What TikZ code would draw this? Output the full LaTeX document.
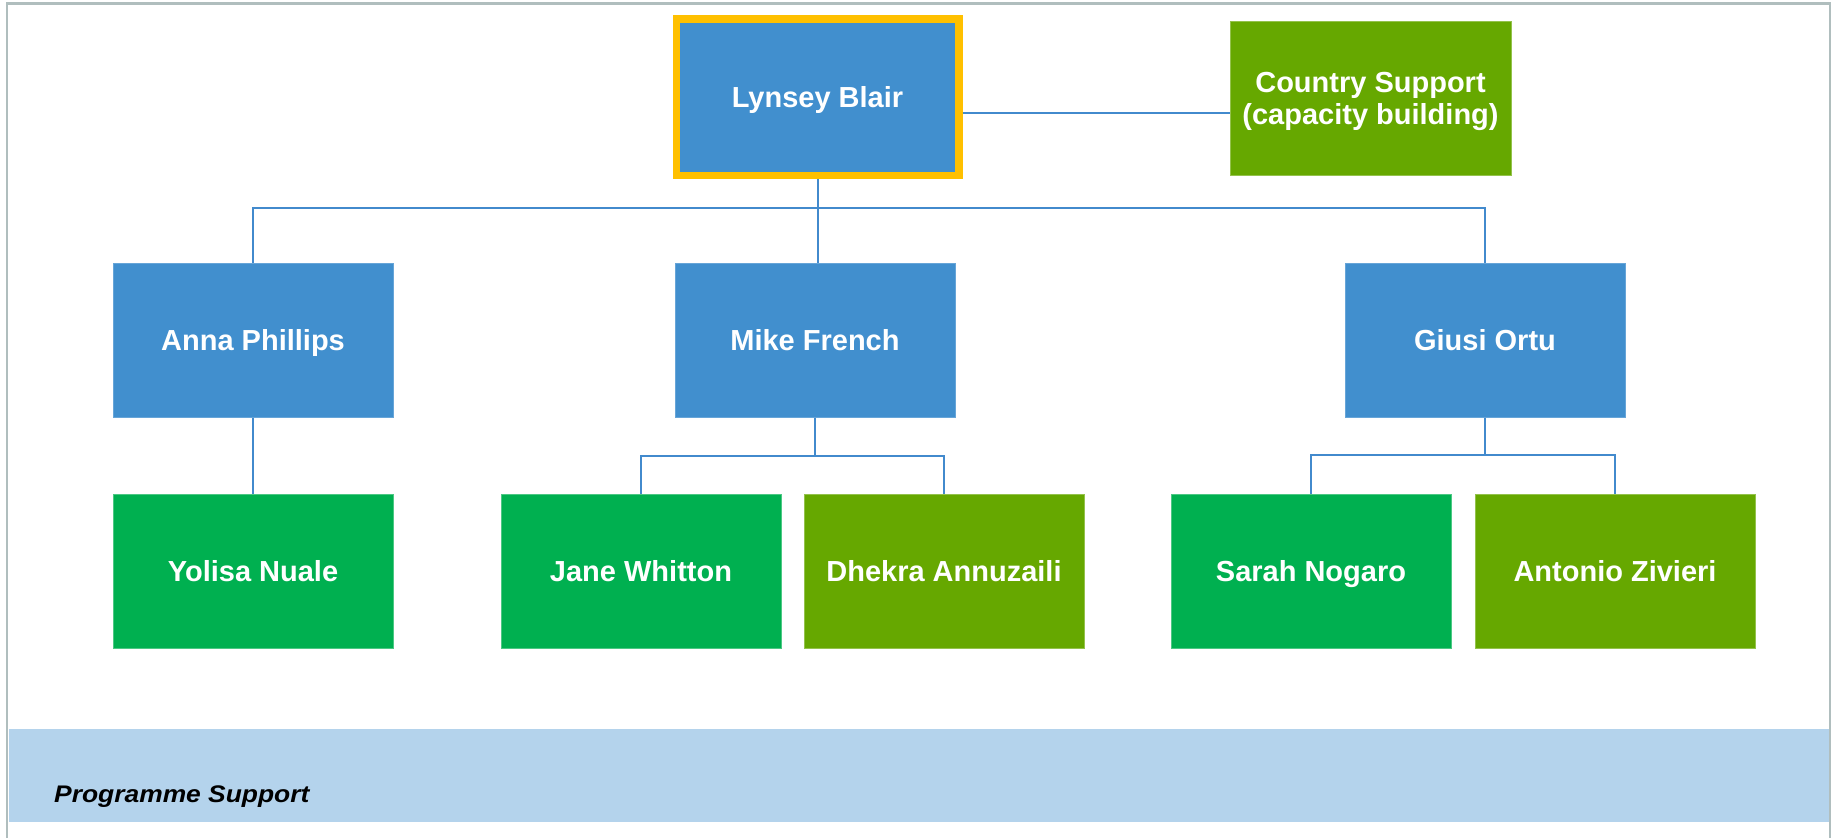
\documentclass[tikz,border=0pt]{standalone}
\usepackage{fontspec}
\setmainfont{Liberation Sans}
\definecolor{boxblue}{RGB}{65,143,206}
\definecolor{boxgreen}{RGB}{0,176,80}
\definecolor{boxolive}{RGB}{102,168,0}
\definecolor{hiyellow}{RGB}{255,192,0}
\definecolor{bandblue}{RGB}{180,211,236}
\definecolor{linkblue}{RGB}{66,138,205}
\definecolor{framegrey}{RGB}{176,190,190}
\tikzset{
  orgbox/.style={minimum width=280pt, minimum height=154pt, inner sep=0pt,
    text=white, align=center, font=\fontsize{29}{31}\selectfont\bfseries,
    text height=20.8pt, text depth=0pt},
  bluebox/.style={orgbox, fill=boxblue, draw=boxblue!80!white, line width=1pt},
  greenbox/.style={orgbox, fill=boxgreen, draw=boxgreen!70!white, line width=1pt},
  olivebox/.style={orgbox, fill=boxolive, draw=boxolive!70!white, line width=1pt},
  link/.style={draw=linkblue, line width=2pt},
}
\begin{document}
\begin{tikzpicture}[x=1pt,y=-1pt]
\useasboundingbox (0,0) rectangle (1831,838);
% frame
\draw[framegrey, line width=2.5pt] (7,838) -- (7,3.5) -- (1830,3.5) -- (1830,838);
% band
\fill[bandblue] (8.5,729) rectangle (1829,822);
\node[anchor=base west, inner sep=0pt, font=\fontsize{24}{26}\selectfont\bfseries\itshape] (ps) at (54,802) {\scalebox{1.1}[1]{Programme Support}};
% nodes
\node[bluebox, minimum width=282.5pt, minimum height=156.5pt, draw=hiyellow, line width=7.5pt] (lb) at (817.5,97) {Lynsey Blair};
\node[olivebox, minimum height=154pt, minimum width=281pt, font=\fontsize{29}{32}\selectfont\bfseries, text height=53pt, text depth=0pt] (cs) at (1370.5,98) {Country Support\\(capacity building)};
\node[bluebox] (ap) at (253,340) {Anna Phillips};
\node[bluebox] (mf) at (815,340) {Mike French};
\node[bluebox] (go) at (1485,340) {Giusi Ortu};
\node[greenbox] (yn) at (253,571) {Yolisa Nuale};
\node[greenbox] (jw) at (641,571) {Jane Whitton};
\node[olivebox] (da) at (944,571) {Dhekra Annuzaili};
\node[greenbox] (sn) at (1311,571) {Sarah Nogaro};
\node[olivebox] (az) at (1615,571) {Antonio Zivieri};
% bus coordinates
\coordinate (csy) at (0,113);
\coordinate (topbus) at (0,208);
\coordinate (mbus) at (0,456);
\coordinate (gbus) at (0,455);
% connectors
\draw[link] (lb.east |- csy) -- (cs.west |- csy);
\draw[link] (lb.south) -- (lb.south |- mf.north);
\draw[link] (ap.north) |- (topbus -| go.north) -- (go.north);
\draw[link] (ap.south) -- (yn.north);
\draw[link] (mf.south) -- (mf.south |- mbus);
\draw[link] (jw.north) |- (mbus -| da.north) -- (da.north);
\draw[link] (go.south) -- (go.south |- gbus);
\draw[link] (sn.north) |- (gbus -| az.north) -- (az.north);
\end{tikzpicture}
\end{document}
